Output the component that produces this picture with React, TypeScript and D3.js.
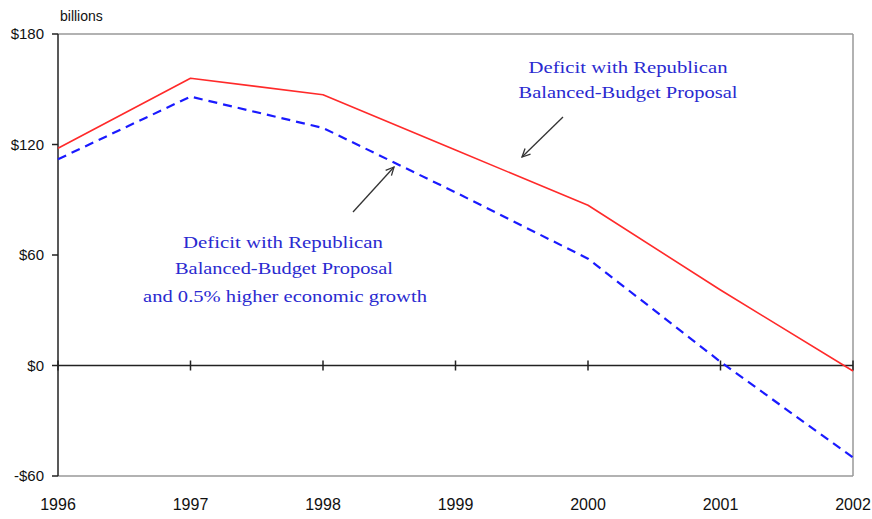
import React from "react";
import * as d3 from "d3";

const years = [1996, 1997, 1998, 1999, 2000, 2001, 2002];
const redDeficit = [118, 156, 147, 117, 87, 41, -3];
const blueDeficit = [112, 146, 129, 94, 58, 2, -50];
const yTicks = [180, 120, 60, 0, -60];
const yTickLabels = ["$180", "$120", "$60", "$0", "-$60"];
const topNote = ["Deficit with Republican", "Balanced-Budget Proposal"];
const bottomNote = [
  "Deficit with Republican",
  "Balanced-Budget Proposal",
  "and 0.5% higher economic growth",
];

const W = 872;
const H = 519;
const L = 58;
const R = 853;
const T = 34;
const B = 476;

export default function App() {
  const x = d3.scaleLinear().domain([1996, 2002]).range([L, R]);
  const y = d3.scaleLinear().domain([-60, 180]).range([B, T]);
  const line = d3
    .line<number>()
    .x((_, i) => x(years[i]))
    .y((d) => y(d))
    .curve(d3.curveLinear);

  const serif = "'Liberation Serif', 'Times New Roman', serif";
  const sans = "'Liberation Sans', Arial, sans-serif";
  const noteColor = "#2a2ad0";

  const arrow = (x1: number, y1: number, x2: number, y2: number) => {
    const ang = Math.atan2(y2 - y1, x2 - x1);
    const len = 9;
    const spread = 0.45;
    const a1 = ang + Math.PI - spread;
    const a2 = ang + Math.PI + spread;
    return (
      <g stroke="#333" strokeWidth={1.3} fill="none">
        <line x1={x1} y1={y1} x2={x2} y2={y2} />
        <polyline
          points={`${x2 + len * Math.cos(a1)},${y2 + len * Math.sin(a1)} ${x2},${y2} ${x2 + len * Math.cos(a2)},${y2 + len * Math.sin(a2)}`}
        />
      </g>
    );
  };

  return (
    <svg
      width={W}
      height={H}
      style={{ position: "absolute", left: 0, top: 0, background: "#fff" }}
    >
      <rect x={0} y={0} width={W} height={H} fill="#fff" />
      <line x1={L} y1={T} x2={R} y2={T} stroke="#999" strokeWidth={1.5} />
      <line x1={R} y1={T} x2={R} y2={B} stroke="#999" strokeWidth={1.5} />
      <line x1={L} y1={B} x2={R} y2={B} stroke="#999" strokeWidth={1.5} />
      <line x1={L} y1={T} x2={L} y2={B} stroke="#222" strokeWidth={1.5} />
      {yTicks.map((t, i) => (
        <g key={t}>
          <line x1={L - 6} x2={L} y1={y(t)} y2={y(t)} stroke="#222" strokeWidth={1.5} />
          <text
            x={L - 14}
            y={y(t)}
            dy="0.35em"
            textAnchor="end"
            fontFamily={sans}
            fontSize={15}
            fill="#111"
          >
            {yTickLabels[i]}
          </text>
        </g>
      ))}
      <line x1={L} y1={y(0)} x2={R} y2={y(0)} stroke="#222" strokeWidth={1.5} />
      {years.map((yr) => (
        <line
          key={yr}
          x1={x(yr)}
          x2={x(yr)}
          y1={y(0) - 5}
          y2={y(0) + 5}
          stroke="#222"
          strokeWidth={1.5}
        />
      ))}
      {years.map((yr) => (
        <text
          key={yr}
          x={x(yr)}
          y={510}
          textAnchor="middle"
          fontFamily={sans}
          fontSize={16}
          fill="#111"
        >
          {yr}
        </text>
      ))}
      <text x={60} y={21} fontFamily={sans} fontSize={14} fill="#111">
        billions
      </text>
      <path d={line(redDeficit) || ""} fill="none" stroke="#ff2a2a" strokeWidth={1.6} strokeLinejoin="round" />
      <path
        d={line(blueDeficit) || ""}
        fill="none"
        stroke="#1a1aff"
        strokeWidth={2.2}
        strokeDasharray="9,6"
        strokeLinejoin="round"
      />
      <g fontFamily={serif} fontSize={17} fill={noteColor} textAnchor="middle">
        <text x={628} y={73} textLength={199} lengthAdjust="spacingAndGlyphs">{topNote[0]}</text>
        <text x={628} y={98} textLength={219} lengthAdjust="spacingAndGlyphs">{topNote[1]}</text>
        <text x={283} y={248} textLength={200} lengthAdjust="spacingAndGlyphs">{bottomNote[0]}</text>
        <text x={284} y={274} textLength={218} lengthAdjust="spacingAndGlyphs">{bottomNote[1]}</text>
        <text x={285} y={302} textLength={284} lengthAdjust="spacingAndGlyphs">{bottomNote[2]}</text>
      </g>
      {arrow(563, 117, 522, 157)}
      {arrow(353, 212, 394, 167)}
    </svg>
  );
}
